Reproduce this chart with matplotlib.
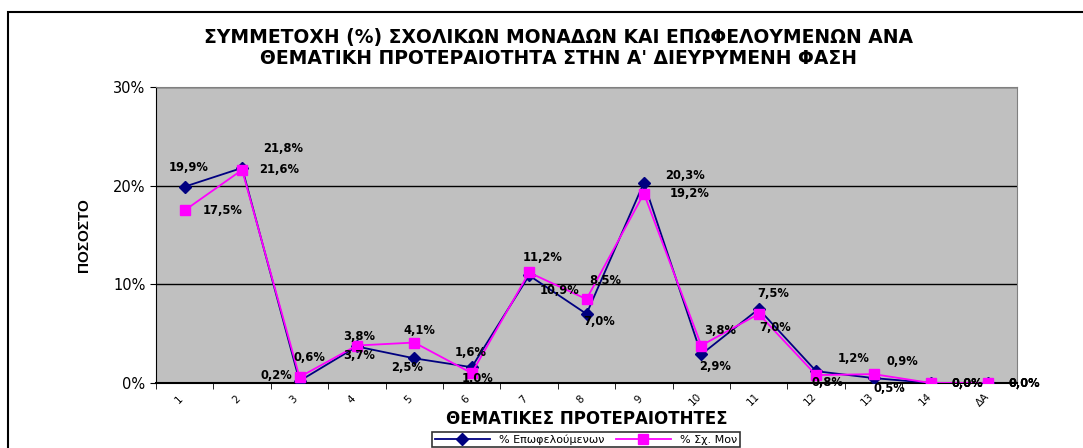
import matplotlib
matplotlib.use("Agg")
import matplotlib.pyplot as plt
from matplotlib.patches import Rectangle

plt.rcParams["font.family"] = ["DejaVu Sans"]

categories = ["1", "2", "3", "4", "5", "6", "7", "8", "9", "10", "11", "12", "13", "14", "ΔΑ"]
epofeloumenoi = [19.9, 21.8, 0.2, 3.7, 2.5, 1.6, 10.9, 7.0, 20.3, 2.9, 7.5, 1.2, 0.5, 0.0, 0.0]
sx_monades = [17.5, 21.6, 0.6, 3.8, 4.1, 1.0, 11.2, 8.5, 19.2, 3.8, 7.0, 0.8, 0.9, 0.0, 0.0]

# label offsets in pixels (dx, dy up)
off_blue = [(4, 19), (41, 19), (-23, 6), (2, -9), (-7, -9), (-1, 15), (30, -15), (13, -8),
            (41, 7), (14, -12), (14, 16), (38, 13), (16, -10), (36, 0), (36, 0)]
off_mag = [(38, 0), (37, 0), (10, 20), (2, 9), (5, 12), (6, -5), (14, 15), (19, 19),
           (46, 0), (19, 15), (16, -14), (11, -7), (29, 13), (36, 0), (36, 0)]

W, H = 1083, 448
fig = plt.figure(figsize=(W / 100, H / 100), dpi=100)
fig.patches.append(Rectangle((8 / W, -0.1), 1.2, 1 - 12 / H + 0.1, transform=fig.transFigure,
                             fill=False, edgecolor="black", linewidth=1.5))

ax = fig.add_axes([156 / W, 1 - 383 / H, (1017 - 156) / W, (383 - 87) / H])
ax.set_facecolor("#C0C0C0")
x = list(range(len(categories)))

ax.plot(x, epofeloumenoi, color="#000080", marker="D", markersize=6, linewidth=1.3,
        label="% Επωφελούμενων", zorder=3)
ax.plot(x, sx_monades, color="#FF00FF", marker="s", markersize=7, linewidth=1.3,
        label="% Σχ. Μον", zorder=4)

for vals, offs in ((epofeloumenoi, off_blue), (sx_monades, off_mag)):
    for i, v in enumerate(vals):
        ax.annotate(f"{v:.1f}%".replace(".", ","), (i, v), xytext=offs[i], textcoords="offset pixels",
                    ha="center", va="center", fontsize=8.3, fontweight="bold", zorder=5)

ax.set_xlim(-0.5, len(categories) - 0.5)
ax.set_ylim(0, 30)
ax.set_yticks([0, 10, 20, 30])
ax.set_yticklabels(["0%", "10%", "20%", "30%"], fontsize=10.5)
ax.yaxis.grid(True, color="black", linewidth=1)
ax.set_axisbelow(True)
ax.set_xticks([i - 0.1 for i in x])
ax.set_xticklabels(categories, rotation=45, ha="center", va="center", rotation_mode="anchor", fontsize=7.5)
ax.set_xticks([i - 0.5 for i in range(len(categories) + 1)], minor=True)
ax.tick_params(axis="x", which="major", length=0, pad=12)
ax.tick_params(axis="x", which="minor", length=4, direction="out")
ax.tick_params(axis="y", length=4, direction="out")

for s in ("top", "right"):
    ax.spines[s].set_color("#808080")
ax.spines["left"].set_color("black")
ax.spines["bottom"].set_color("black")
ax.spines["bottom"].set_linewidth(1.5)

ax.set_ylabel("ΠΟΣΟΣΤΟ", fontsize=11, fontweight="bold", labelpad=16,
              family=["Liberation Sans", "DejaVu Sans"])
ax.set_xlabel("ΘΕΜΑΤΙΚΕΣ ΠΡΟΤΕΡΑΙΟΤΗΤΕΣ", fontsize=12, fontweight="bold", labelpad=1)

fig.text(558 / W, 1 - 48 / H, "ΣΥΜΜΕΤΟΧΗ (%) ΣΧΟΛΙΚΩΝ ΜΟΝΑΔΩΝ ΚΑΙ ΕΠΩΦΕΛΟΥΜΕΝΩΝ ΑΝΑ\n"
         "ΘΕΜΑΤΙΚΗ ΠΡΟΤΕΡΑΙΟΤΗΤΑ ΣΤΗΝ Α' ΔΙΕΥΡΥΜΕΝΗ ΦΑΣΗ",
         ha="center", va="center", fontsize=13.5, fontweight="bold", linespacing=1.1)

leg = fig.legend(loc="lower center", bbox_to_anchor=(586 / W, 0.0), ncol=2,
                 fontsize=8, frameon=True, fancybox=False, edgecolor="black",
                 handlelength=5, columnspacing=1.0, borderpad=0.2, borderaxespad=0.1)
leg.get_frame().set_linewidth(1.2)

fig.savefig("out.png", dpi=100)
